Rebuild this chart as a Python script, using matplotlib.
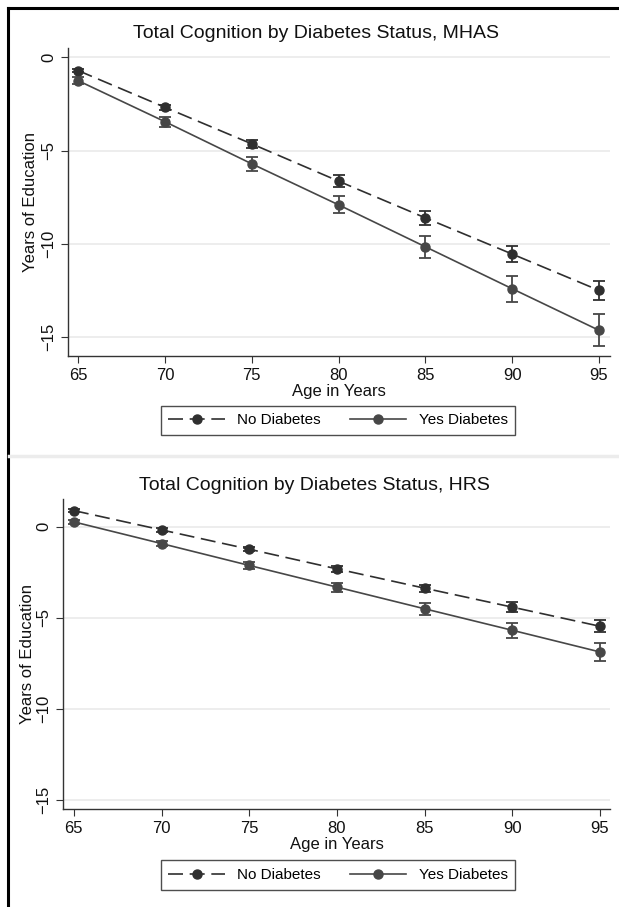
import numpy as np
import matplotlib
matplotlib.use('Agg')
import matplotlib.pyplot as plt
from matplotlib.lines import Line2D

plt.rcParams['font.family'] = ['Liberation Sans', 'DejaVu Sans']

ages = [65, 70, 75, 80, 85, 90, 95]

# MHAS
mhas_no = [-0.71, -2.68, -4.64, -6.64, -8.61, -10.55, -12.5]
mhas_no_ci = [0.1, 0.14, 0.2, 0.32, 0.38, 0.45, 0.52]
mhas_yes = [-1.25, -3.45, -5.71, -7.91, -10.16, -12.41, -14.64]
mhas_yes_ci = [0.2, 0.27, 0.37, 0.46, 0.58, 0.7, 0.85]

# HRS
hrs_no = [0.88, -0.18, -1.24, -2.32, -3.38, -4.42, -5.47]
hrs_no_ci = [0.08, 0.1, 0.12, 0.15, 0.2, 0.27, 0.32]
hrs_yes = [0.26, -0.93, -2.13, -3.32, -4.51, -5.69, -6.88]
hrs_yes_ci = [0.1, 0.12, 0.18, 0.25, 0.33, 0.42, 0.5]

yticks = [0, -5, -10, -15]
labels = ['No Diabetes', 'Yes Diabetes']

c_no = '#2f2f2f'
c_yes = '#474747'
dash = (0, (9, 4))

W, H = 619, 907
fig = plt.figure(figsize=(W / 100, H / 100), dpi=100)


def px_axes(l, t, r, b):
    return fig.add_axes([l / W, 1 - b / H, (r - l) / W, (b - t) / H])


def panel(ax, no, no_ci, yes, yes_ci, xlim, ylim, ypad):
    ax.errorbar(ages, no, yerr=no_ci, fmt='none', ecolor=c_no, elinewidth=1.3, capsize=4, capthick=1.3)
    ax.errorbar(ages, yes, yerr=yes_ci, fmt='none', ecolor=c_yes, elinewidth=1.3, capsize=4, capthick=1.3)
    ax.plot(ages, no, color=c_no, linestyle=dash, lw=1.2, marker='o', ms=6.5)
    ax.plot(ages, yes, color=c_yes, linestyle='-', lw=1.2, marker='o', ms=6.5)
    ax.set_xlim(*xlim)
    ax.set_ylim(*ylim)
    ax.set_xticks(ages)
    ax.set_yticks(yticks)
    ax.grid(axis='y', color='#eaeaea', lw=1.2)
    ax.set_axisbelow(True)
    for s in ['top', 'right']:
        ax.spines[s].set_visible(False)
    for s in ['left', 'bottom']:
        ax.spines[s].set_color('#333333')
        ax.spines[s].set_linewidth(1.0)
    ax.tick_params(axis='both', length=5, color='#333333', labelsize=12, labelcolor='#111111')
    ax.tick_params(axis='y', labelrotation=90)
    for t in ax.get_yticklabels():
        t.set_va('center')
    ax.set_xlabel('Age in Years', fontsize=12, labelpad=1, color='#111111')
    ax.set_ylabel('Years of Education', fontsize=12, labelpad=ypad, color='#111111')


ax1 = px_axes(68, 48, 610, 355.7)
panel(ax1, mhas_no, mhas_no_ci, mhas_yes, mhas_yes_ci, (64.42, 95.63), (-16, 0.5), 2)
fig.text(316 / W, 1 - 33 / H, 'Total Cognition by Diabetes Status, MHAS',
         ha='center', va='center', fontsize=14, color='#111111')

ax2 = px_axes(63, 499.3, 610, 809)
panel(ax2, hrs_no, hrs_no_ci, hrs_yes, hrs_yes_ci, (64.38, 95.57), (-15.5, 1.5), 1)
fig.text(314 / W, 1 - 485 / H, 'Total Cognition by Diabetes Status, HRS',
         ha='center', va='center', fontsize=14, color='#111111')

handles = [Line2D([], [], color=c_no, linestyle=dash, lw=1.2, marker='o', ms=6.5),
           Line2D([], [], color=c_yes, linestyle='-', lw=1.2, marker='o', ms=6.5)]
for cy in (420.5, 875):
    leg = fig.legend(handles, labels, loc='center', bbox_to_anchor=(338 / W, 1 - cy / H),
                     ncol=2, fontsize=11, frameon=True, fancybox=False, handlelength=3.7,
                     columnspacing=1.9, borderpad=0.5, handletextpad=0.8, borderaxespad=0)
    leg.get_frame().set_edgecolor('#222222')
    leg.get_frame().set_linewidth(1.0)

# outer frame and divider
fig.add_artist(Line2D([7.5 / W, 7.5 / W], [0, 1 - 7.5 / H], transform=fig.transFigure, color='black', lw=2.2))
fig.add_artist(Line2D([7.5 / W, 1], [1 - 7.5 / H, 1 - 7.5 / H], transform=fig.transFigure, color='black', lw=2.2))
fig.add_artist(Line2D([9 / W, 1], [1 - 456 / H, 1 - 456 / H], transform=fig.transFigure, color='#ececec', lw=2.5))

fig.savefig('out.png', dpi=100)
